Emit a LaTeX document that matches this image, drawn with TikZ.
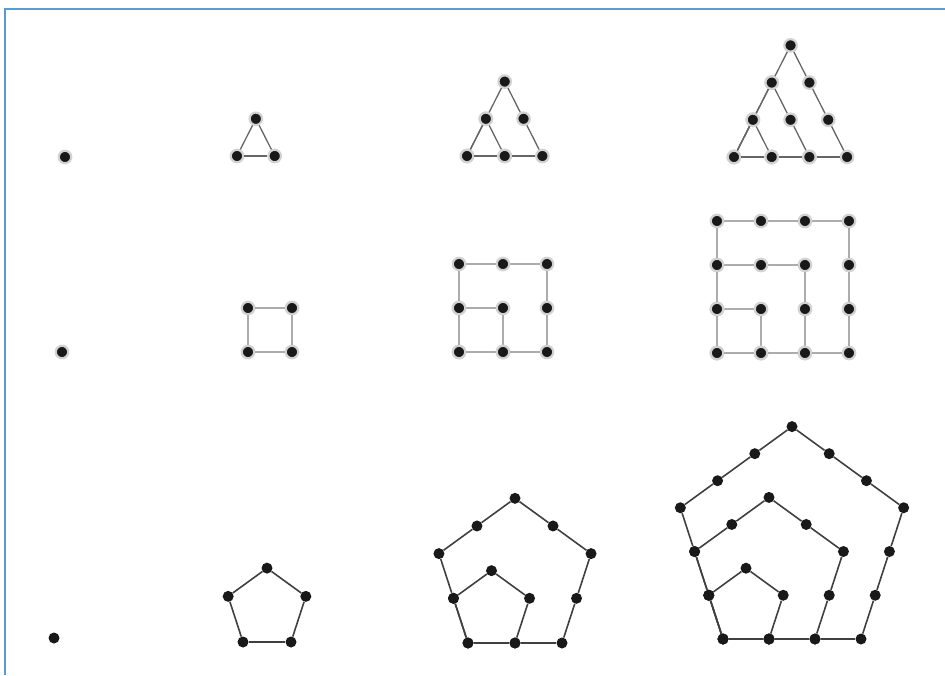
\documentclass[tikz,border=0pt]{standalone}
\usepackage{tikz}
\usetikzlibrary{calc}
\definecolor{rahmenblau}{RGB}{91,155,213}

\tikzset{
  punkt/.style={circle, fill=black!90, inner sep=0pt, minimum size=11pt},
  punktgrau/.style={punkt, minimum size=12.5pt, draw=gray!35, line width=2.2pt},
  kante/.style={draw=gray!65, line width=1.3pt},
  kantedrei/.style={draw=black!60, line width=1.3pt},
  kantedunkel/.style={draw=black!75, line width=1.6pt}
}

% Punkte und Kanten rund um ein Vieleck: #1 Name, #2 Ecken, #3 k, #4 Punktstil, #5 Kantenstil
\newcommand{\rundum}[5]{%
  \pgfmathtruncatemacro{\letzter}{#2*#3-1}
  \foreach \q in {0,...,\letzter} {
    \pgfmathtruncatemacro{\seite}{\q/#3}
    \pgfmathtruncatemacro{\schritt}{mod(\q,#3)}
    \pgfmathtruncatemacro{\naechste}{mod(\seite+1,#2)}
    \node[#4] (#1-#3-\q) at ($(#1-#3-e\seite)!\schritt/#3!(#1-#3-e\naechste)$) {};
  }
  \foreach \q in {0,...,\letzter} {
    \pgfmathtruncatemacro{\qq}{mod(\q+1,#2*#3)}
    \draw[#5] (#1-#3-\q) -- (#1-#3-\qq);
  }
}

\begin{document}
\begin{tikzpicture}[x=1pt, y=1pt]
				\useasboundingbox (0,0) rectangle (945,-675);
				% Rahmen
				\draw[rahmenblau, line width=1.5pt] (945,-9) -- (5,-9) -- (5,-675);
				% Dreieckszahlen
				\node[punktgrau] (d1) at (65,-157) {};
				\foreach \n/\x/\y in {2/237/156, 3/467/156, 4/734/157} {
					\pgfmathtruncatemacro{\kmax}{\n-1}
					\foreach \k in {1,...,\kmax} {
						\coordinate (d\n-\k-e0) at (\x,-\y);
						\coordinate (d\n-\k-e1) at ($(d\n-\k-e0)+(\k*37.7,0)$);
						\coordinate (d\n-\k-e2) at ($(d\n-\k-e0)+(\k*18.85,\k*37.2)$);
						\rundum{d\n}{3}{\k}{punktgrau}{kantedrei}
					}
				}
				% Quadratzahlen
				\node[punktgrau] (q1) at (62,-352) {};
				\foreach \n/\x/\y in {2/248/352, 3/459/352, 4/717/353} {
					\pgfmathtruncatemacro{\kmax}{\n-1}
					\foreach \k in {1,...,\kmax} {
						\coordinate (q\n-\k-e0) at (\x,-\y);
						\coordinate (q\n-\k-e1) at ($(q\n-\k-e0)+(\k*44,0)$);
						\coordinate (q\n-\k-e2) at ($(q\n-\k-e0)+(\k*44,\k*44)$);
						\coordinate (q\n-\k-e3) at ($(q\n-\k-e0)+(0,\k*44)$);
						\rundum{q\n}{4}{\k}{punktgrau}{kante}
					}
				}
				% Fuenfeckszahlen
				\node[punkt] (f1) at (54,-638) {};
				\foreach \n/\x/\y/\abst in {2/243/642/48, 3/468/643/47, 4/723/639/46} {
					\pgfmathtruncatemacro{\kmax}{\n-1}
					\foreach \k in {1,...,\kmax} {
						\coordinate (f\n-\k-e0) at (\x,-\y);
						\coordinate (f\n-\k-e1) at ($(f\n-\k-e0)+(\k*\abst,0)$);
						\coordinate (f\n-\k-e2) at ($(f\n-\k-e0)+(\k*\abst*1.309,\k*\abst*0.951)$);
						\coordinate (f\n-\k-e3) at ($(f\n-\k-e0)+(\k*\abst*0.5,\k*\abst*1.539)$);
						\coordinate (f\n-\k-e4) at ($(f\n-\k-e0)+(-\k*\abst*0.309,\k*\abst*0.951)$);
						\rundum{f\n}{5}{\k}{punkt}{kantedunkel}
					}
				}
\end{tikzpicture}
\end{document}
